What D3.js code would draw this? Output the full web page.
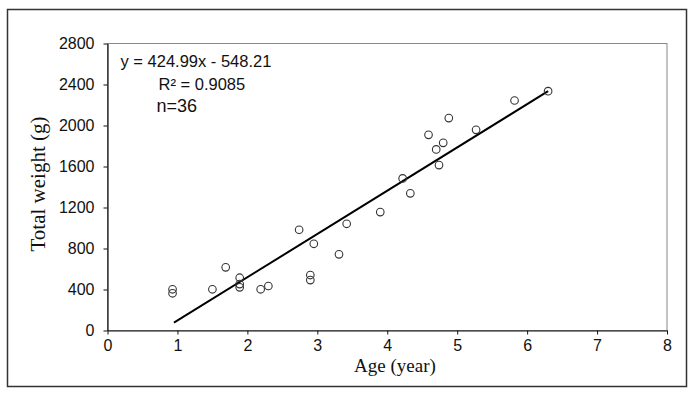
<!DOCTYPE html>
<html>
<head>
<meta charset="utf-8">
<script src="https://cdn.jsdelivr.net/npm/d3@7"></script>
<style>
  body { margin: 0; background: #fff; }
  svg { display: block; }
</style>
</head>
<body>
<div id="chart"></div>
<script>
// Data
const ages = [0.93, 0.93, 1.50, 1.69, 1.89, 1.89, 1.89, 2.19, 2.30, 2.74, 2.90, 2.90, 2.95,
              3.31, 3.42, 3.90, 4.22, 4.33, 4.74, 4.70, 4.80, 4.59, 4.88, 5.27, 5.82, 6.30];
const weights = [402, 363, 402, 616, 515, 453, 421, 402, 434, 983, 541, 492, 846,
                 743, 1041, 1155, 1484, 1338, 1614, 1767, 1831, 1909, 2072, 1958, 2244, 2335];
const fitX = [0.95, 6.30];
const fitY = [76, 2335];
const xTicks = [0, 1, 2, 3, 4, 5, 6, 7, 8];
const yTicks = [0, 400, 800, 1200, 1600, 2000, 2400, 2800];
const notes = ["y = 424.99x - 548.21", "R\u00b2 = 0.9085", "n=36"];

const W = 700, H = 395;
const margin = { top: 43.5, right: 33, bottom: 64.5, left: 107.5 };
const width = W - margin.left - margin.right;
const height = H - margin.top - margin.bottom;

const svg = d3.select("#chart").append("svg")
    .attr("width", W)
    .attr("height", H);

// Outer frame
svg.append("rect")
    .attr("x", 7.5).attr("y", 9.5)
    .attr("width", 679).attr("height", 377)
    .attr("fill", "none")
    .attr("stroke", "#333")
    .attr("stroke-width", 1.5);

const g = svg.append("g")
    .attr("transform", `translate(${margin.left}, ${margin.top})`);

const x = d3.scaleLinear().domain([0, 8]).range([0, width]);
const y = d3.scaleLinear().domain([0, 2800]).range([height, 0]);

// Plot border (top and right in grey)
g.append("rect")
    .attr("width", width).attr("height", height)
    .attr("fill", "none")
    .attr("stroke", "#888")
    .attr("stroke-width", 1);

// Axes
const xAxis = g.append("g")
    .attr("transform", `translate(0, ${height})`)
    .call(d3.axisBottom(x).tickValues(xTicks).tickFormat(d3.format("d"))
        .tickSize(4).tickPadding(5).tickSizeOuter(0));

const yAxis = g.append("g")
    .call(d3.axisLeft(y).tickValues(yTicks).tickFormat(d3.format("d"))
        .tickSize(4).tickPadding(9).tickSizeOuter(0));

[xAxis, yAxis].forEach(a => {
    a.select(".domain").attr("stroke", "#111").attr("stroke-width", 1.2);
    a.selectAll(".tick line").attr("stroke", "#111");
    a.selectAll(".tick text")
        .attr("fill", "#111")
        .style("font-family", "Liberation Sans, Arial, sans-serif")
        .style("font-size", "16px");
});

// Regression line
g.append("line")
    .attr("x1", x(fitX[0])).attr("y1", y(fitY[0]))
    .attr("x2", x(fitX[1])).attr("y2", y(fitY[1]))
    .attr("stroke", "#000")
    .attr("stroke-width", 2);

// Points
g.selectAll(".pt")
    .data(ages.map((a, i) => ({ a, w: weights[i] })))
    .enter().append("circle")
    .attr("class", "pt")
    .attr("cx", d => x(d.a))
    .attr("cy", d => y(d.w))
    .attr("r", 3.8)
    .attr("fill", "none")
    .attr("stroke", "#333")
    .attr("stroke-width", 1.1);

// Annotation
const noteStyle = [
    { x: 120.5, y: 67, size: 16.5 },
    { x: 158.5, y: 90, size: 16.5 },
    { x: 156.5, y: 111.5, size: 18 }
];
notes.forEach((t, i) => {
    svg.append("text")
        .attr("x", noteStyle[i].x)
        .attr("y", noteStyle[i].y)
        .attr("fill", "#111")
        .style("font-family", "Liberation Sans, Arial, sans-serif")
        .style("font-size", noteStyle[i].size + "px")
        .text(t);
});

// Axis titles
svg.append("text")
    .attr("x", 395)
    .attr("y", 371.5)
    .attr("text-anchor", "middle")
    .attr("fill", "#111")
    .style("font-family", "Liberation Serif, Times New Roman, serif")
    .style("font-size", "19px")
    .text("Age (year)");

svg.append("text")
    .attr("transform", "translate(45, 184) rotate(-90)")
    .attr("text-anchor", "middle")
    .attr("fill", "#111")
    .style("font-family", "Liberation Serif, Times New Roman, serif")
    .style("font-size", "21px")
    .text("Total weight (g)");
</script>
</body>
</html>
